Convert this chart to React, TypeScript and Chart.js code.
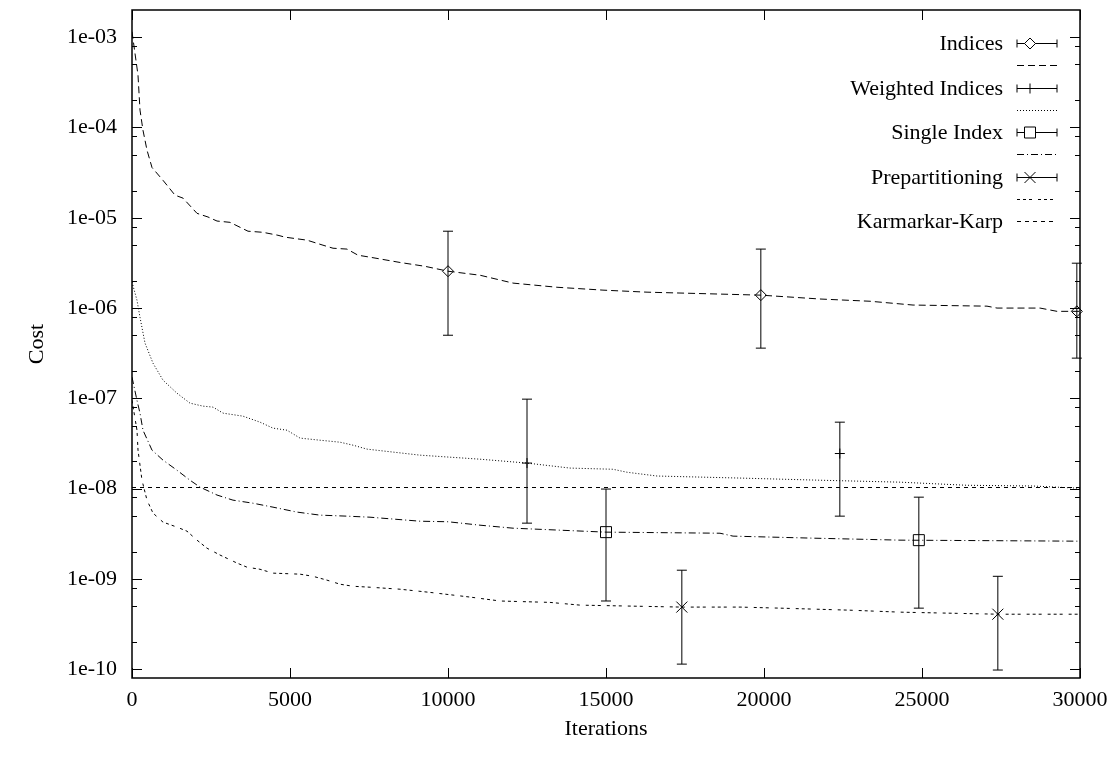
import React, { useEffect, useRef } from 'react';
import { Chart, registerables } from 'chart.js';

Chart.register(...registerables);

const FONT_FAMILY = "'Liberation Serif', 'Times New Roman', Times, serif";
const FONT_SIZE = 22;

// Axis ticks
const X_TICKS = [0, 5000, 10000, 15000, 20000, 25000, 30000];
const Y_MAJOR_TICKS = [1e-10, 1e-9, 1e-8, 1e-7, 1e-6, 1e-5, 1e-4, 1e-3];
const Y_MINOR_MANTISSAS = [2, 5, 8];
const X_MIN = 0;
const X_MAX = 30000;
const Y_MIN = 8e-11;
const Y_MAX = 2e-3;

// Indices (long dashes)
const indicesIter = [0, 190, 253, 348, 475, 633, 981, 1361, 1614, 2057, 2405, 2690, 3101, 3671, 4146, 4620, 4842, 5538, 6044, 6361, 6804, 7152, 7532, 8481, 9272, 10000, 11013, 12057, 13450, 14905, 16298, 19900, 21772, 23355, 24716, 27057, 27374, 28735, 29273, 30000];
const indicesCost = [1.15e-3, 3.8e-4, 1.56e-4, 9.3e-5, 5.6e-5, 3.6e-5, 2.6e-5, 1.78e-5, 1.65e-5, 1.12e-5, 1.02e-5, 9.2e-6, 8.9e-6, 7.1e-6, 6.9e-6, 6.4e-6, 6.1e-6, 5.65e-6, 4.97e-6, 4.6e-6, 4.5e-6, 3.85e-6, 3.66e-6, 3.2e-6, 2.9e-6, 2.56e-6, 2.31e-6, 1.89e-6, 1.7e-6, 1.58e-6, 1.5e-6, 1.39e-6, 1.26e-6, 1.19e-6, 1.08e-6, 1.05e-6, 1.0e-6, 1.0e-6, 9.2e-7, 9.2e-7];
const indicesErrIter = [10000, 19900, 29900];
const indicesErrCost = [2.56e-6, 1.39e-6, 9.2e-7];
const indicesErrLow = [5.0e-7, 3.6e-7, 2.79e-7];
const indicesErrHigh = [7.1e-6, 4.5e-6, 3.14e-6];

// Weighted Indices (dotted)
const weightedIter = [0, 158, 253, 411, 665, 981, 1424, 1835, 2247, 2563, 2880, 3513, 4051, 4462, 4905, 5317, 5949, 6582, 6994, 7437, 9114, 11013, 12500, 13861, 15222, 15665, 16614, 19241, 21772, 24304, 26424, 28513, 30000];
const weightedCost = [1.94e-6, 1.22e-6, 7.9e-7, 4.1e-7, 2.45e-7, 1.59e-7, 1.14e-7, 8.85e-8, 8.2e-8, 8.0e-8, 6.86e-8, 6.35e-8, 5.45e-8, 4.68e-8, 4.44e-8, 3.63e-8, 3.44e-8, 3.27e-8, 3.03e-8, 2.74e-8, 2.35e-8, 2.12e-8, 1.92e-8, 1.69e-8, 1.64e-8, 1.52e-8, 1.38e-8, 1.31e-8, 1.24e-8, 1.18e-8, 1.09e-8, 1.07e-8, 1.01e-8];
const weightedErrIter = [12500, 22400];
const weightedErrCost = [1.92e-8, 2.45e-8];
const weightedErrLow = [4.15e-9, 4.96e-9];
const weightedErrHigh = [9.8e-8, 5.45e-8];

// Single Index (dash-dot)
const singleIter = [0, 158, 253, 348, 633, 981, 1424, 1835, 2152, 2690, 3196, 3829, 4462, 5222, 5949, 6804, 7532, 9114, 10000, 11013, 12057, 15000, 18608, 19020, 21551, 24304, 30000];
const singleCost = [1.72e-7, 9.5e-8, 6.86e-8, 4.44e-8, 2.67e-8, 2.07e-8, 1.6e-8, 1.24e-8, 1.04e-8, 8.5e-9, 7.46e-9, 6.9e-9, 6.24e-9, 5.5e-9, 5.09e-9, 4.96e-9, 4.83e-9, 4.36e-9, 4.3e-9, 3.94e-9, 3.65e-9, 3.3e-9, 3.21e-9, 2.98e-9, 2.83e-9, 2.69e-9, 2.62e-9];
const singleErrIter = [15000, 24900];
const singleErrCost = [3.3e-9, 2.69e-9];
const singleErrLow = [5.7e-10, 4.75e-10];
const singleErrHigh = [9.9e-9, 8.05e-9];

// Prepartitioning (short dashes)
const prepIter = [0, 158, 190, 316, 475, 665, 981, 1424, 1741, 2057, 2374, 2785, 3323, 3639, 4051, 4462, 5317, 5728, 6171, 6582, 6994, 7532, 8481, 9430, 10696, 11646, 13228, 14178, 17400, 19241, 20506, 22722, 24304, 27400, 30000];
const prepCost = [9.5e-8, 4.44e-8, 2.67e-8, 1.24e-8, 7.46e-9, 5.36e-9, 4.26e-9, 3.75e-9, 3.38e-9, 2.69e-9, 2.19e-9, 1.84e-9, 1.5e-9, 1.35e-9, 1.28e-9, 1.16e-9, 1.13e-9, 1.07e-9, 9.7e-10, 8.75e-10, 8.3e-10, 8.1e-10, 7.7e-10, 7.1e-10, 6.3e-10, 5.7e-10, 5.5e-10, 5.13e-10, 4.88e-10, 4.88e-10, 4.75e-10, 4.51e-10, 4.29e-10, 4.07e-10, 4.07e-10];
const prepErrIter = [17400, 27400];
const prepErrCost = [4.88e-10, 4.07e-10];
const prepErrLow = [1.14e-10, 9.8e-11];
const prepErrHigh = [1.25e-9, 1.07e-9];

// Karmarkar-Karp (constant)
const kkIter = [0, 30000];
const kkCost = [1.03e-8, 1.03e-8];

const LEGEND_LABELS = ['Indices', '', 'Weighted Indices', '', 'Single Index', '', 'Prepartitioning', '', 'Karmarkar-Karp'];

const DASH_INDICES = [7, 4];
const DASH_WEIGHTED = [1, 2];
const DASH_SINGLE = [7, 3, 1, 3];
const DASH_PREP = [3, 3, 3, 3, 3, 6];
const DASH_KK = [4, 4];

const pts = (xs: number[], ys: number[]) => xs.map((x, i) => ({ x, y: ys[i] }));
const errPts = (xs: number[], ys: number[], lo: number[], hi: number[]) =>
  xs.map((x, i) => ({ x, y: ys[i], yMin: lo[i], yMax: hi[i] }));

const isMajor = (v: number) => Y_MAJOR_TICKS.some((m) => Math.abs(v / m - 1) < 1e-6);
const fmtExp = (v: number) => {
  const e = Math.round(Math.log10(v));
  return '1e' + (e < 0 ? '-' : '+') + String(Math.abs(e)).padStart(2, '0');
};

function drawMarker(ctx: CanvasRenderingContext2D, style: string, x: number, y: number) {
  ctx.beginPath();
  if (style === 'diamond') {
    ctx.moveTo(x, y - 5.5); ctx.lineTo(x + 5.5, y); ctx.lineTo(x, y + 5.5); ctx.lineTo(x - 5.5, y); ctx.closePath();
  } else if (style === 'square') {
    ctx.rect(x - 5.5, y - 5.5, 11, 11);
  } else if (style === 'plus') {
    ctx.moveTo(x - 5, y); ctx.lineTo(x + 5, y); ctx.moveTo(x, y - 5); ctx.lineTo(x, y + 5);
  } else if (style === 'x') {
    ctx.moveTo(x - 5.5, y - 5.5); ctx.lineTo(x + 5.5, y + 5.5); ctx.moveTo(x + 5.5, y - 5.5); ctx.lineTo(x - 5.5, y + 5.5);
  }
  ctx.stroke();
}

const errorBarPlugin = {
  id: 'errorBars',
  afterDatasetsDraw(chart: any) {
    const { ctx, scales } = chart;
    const xs = scales.x;
    const ys = scales.y;
    ctx.save();
    ctx.strokeStyle = '#000';
    ctx.lineWidth = 1;
    chart.data.datasets.forEach((ds: any) => {
      if (!ds.errorMarker) return;
      ds.data.forEach((p: any) => {
        const px = xs.getPixelForValue(p.x);
        const y1 = ys.getPixelForValue(p.yMin);
        const y2 = ys.getPixelForValue(p.yMax);
        const yc = ys.getPixelForValue(p.y);
        ctx.beginPath();
        ctx.moveTo(px, y1); ctx.lineTo(px, y2);
        ctx.moveTo(px - 5, y1); ctx.lineTo(px + 5, y1);
        ctx.moveTo(px - 5, y2); ctx.lineTo(px + 5, y2);
        ctx.stroke();
        drawMarker(ctx, ds.errorMarker, px, yc);
      });
    });
    ctx.restore();
  },
};

const framePlugin = {
  id: 'gnuplotFrame',
  afterDraw(chart: any) {
    const { ctx, chartArea: a, scales } = chart;
    ctx.save();
    ctx.strokeStyle = '#000';
    ctx.lineWidth = 1;
    ctx.beginPath();
    scales.y.ticks.forEach((t: any) => {
      const y = Math.round(scales.y.getPixelForValue(t.value)) + 0.5;
      const len = isMajor(t.value) ? 10 : 5;
      ctx.moveTo(a.left, y); ctx.lineTo(a.left + len, y);
      ctx.moveTo(a.right, y); ctx.lineTo(a.right - len, y);
    });
    scales.x.ticks.forEach((t: any) => {
      const x = Math.round(scales.x.getPixelForValue(t.value)) + 0.5;
      ctx.moveTo(x, a.bottom); ctx.lineTo(x, a.bottom - 10);
      ctx.moveTo(x, a.top); ctx.lineTo(x, a.top + 10);
    });
    ctx.stroke();
    ctx.lineWidth = 1.5;
    ctx.strokeRect(a.left, a.top, a.right - a.left, a.bottom - a.top);
    ctx.restore();
  },
};

const legendPlugin = {
  id: 'gnuplotKey',
  afterDraw(chart: any) {
    const { ctx, chartArea: a } = chart;
    const textRight = a.right - 77;
    const x1 = a.right - 63;
    const x2 = a.right - 23;
    const xm = a.right - 50;
    const rowH = 22.25;
    const y0 = a.top + 33;
    const samples: any[] = [
      { kind: 'err', marker: 'diamond' },
      { kind: 'line', dash: DASH_INDICES },
      { kind: 'err', marker: 'plus' },
      { kind: 'line', dash: DASH_WEIGHTED },
      { kind: 'err', marker: 'square' },
      { kind: 'line', dash: DASH_SINGLE },
      { kind: 'err', marker: 'x' },
      { kind: 'line', dash: DASH_PREP },
      { kind: 'line', dash: DASH_KK },
    ];
    ctx.save();
    ctx.font = `${FONT_SIZE}px ${FONT_FAMILY}`;
    ctx.fillStyle = '#000';
    ctx.textAlign = 'right';
    ctx.textBaseline = 'middle';
    LEGEND_LABELS.forEach((label, i) => {
      const y = Math.round(y0 + rowH * i) + 0.5;
      if (label) ctx.fillText(label, textRight, y + 1);
      const s = samples[i];
      ctx.strokeStyle = '#000';
      ctx.lineWidth = 1;
      if (s.kind === 'err') {
        ctx.setLineDash([]);
        ctx.beginPath();
        ctx.moveTo(x1, y); ctx.lineTo(x2, y);
        ctx.moveTo(x1, y - 4); ctx.lineTo(x1, y + 4);
        ctx.moveTo(x2, y - 4); ctx.lineTo(x2, y + 4);
        ctx.stroke();
        if (s.marker === 'diamond' || s.marker === 'square') {
          ctx.fillStyle = '#fff';
          ctx.beginPath();
          if (s.marker === 'diamond') {
            ctx.moveTo(xm, y - 5.5); ctx.lineTo(xm + 5.5, y); ctx.lineTo(xm, y + 5.5); ctx.lineTo(xm - 5.5, y); ctx.closePath();
          } else {
            ctx.rect(xm - 5.5, y - 5.5, 11, 11);
          }
          ctx.fill();
          ctx.fillStyle = '#000';
        }
        drawMarker(ctx, s.marker, xm, y);
      } else {
        ctx.setLineDash(s.dash);
        ctx.beginPath();
        ctx.moveTo(x1, y); ctx.lineTo(x2, y);
        ctx.stroke();
        ctx.setLineDash([]);
      }
    });
    ctx.restore();
  },
};

const lineDs = (data: any[], dash: number[]) => ({
  data,
  borderColor: '#000',
  borderWidth: 1,
  borderDash: dash,
  pointRadius: 0,
  fill: false,
  tension: 0,
});

const errDs = (data: any[], marker: string) => ({
  data,
  showLine: false,
  pointRadius: 0,
  errorMarker: marker,
});

export default function App() {
  const ref = useRef<HTMLCanvasElement>(null);
  useEffect(() => {
    const font = { family: FONT_FAMILY, size: FONT_SIZE };
    const chart = new Chart(ref.current as HTMLCanvasElement, {
      type: 'line',
      data: {
        datasets: [
          lineDs(pts(indicesIter, indicesCost), DASH_INDICES),
          lineDs(pts(weightedIter, weightedCost), DASH_WEIGHTED),
          lineDs(pts(singleIter, singleCost), DASH_SINGLE),
          lineDs(pts(prepIter, prepCost), DASH_PREP),
          lineDs(pts(kkIter, kkCost), DASH_KK),
          errDs(errPts(indicesErrIter, indicesErrCost, indicesErrLow, indicesErrHigh), 'diamond'),
          errDs(errPts(weightedErrIter, weightedErrCost, weightedErrLow, weightedErrHigh), 'plus'),
          errDs(errPts(singleErrIter, singleErrCost, singleErrLow, singleErrHigh), 'square'),
          errDs(errPts(prepErrIter, prepErrCost, prepErrLow, prepErrHigh), 'x'),
        ] as any,
      },
      options: {
        responsive: false,
        devicePixelRatio: 1,
        animation: false,
        events: [],
        layout: { padding: { left: 0, top: 10, right: 33, bottom: 0 } },
        plugins: { legend: { display: false }, tooltip: { enabled: false } },
        scales: {
          x: {
            type: 'linear',
            min: X_MIN,
            max: X_MAX,
            afterBuildTicks: (s: any) => {
              s.ticks = X_TICKS.map((v) => ({ value: v }));
            },
            afterFit: (s: any) => {
              s.height = 81;
              s.paddingLeft = 0;
              s.paddingRight = 0;
            },
            grid: { display: false, drawTicks: false },
            border: { display: false },
            ticks: {
              font,
              color: '#000',
              padding: 9,
              autoSkip: false,
              maxRotation: 0,
              callback: (v: any) => String(v),
            },
            title: { display: true, text: 'Iterations', font, color: '#000', padding: { top: 0, bottom: 17 } },
          },
          y: {
            type: 'logarithmic',
            min: Y_MIN,
            max: Y_MAX,
            afterBuildTicks: (s: any) => {
              const vals: number[] = [...Y_MAJOR_TICKS];
              Y_MAJOR_TICKS.forEach((d) => {
                Y_MINOR_MANTISSAS.forEach((m) => {
                  const v = d * m;
                  if (v > Y_MIN * 1.0001 && v < Y_MAX * 0.9999) vals.push(v);
                });
              });
              vals.sort((p, q) => p - q);
              s.ticks = vals.map((v) => ({ value: v }));
            },
            afterFit: (s: any) => {
              s.width = 132;
              s.paddingTop = 0;
              s.paddingBottom = 0;
            },
            grid: { display: false, drawTicks: false },
            border: { display: false },
            ticks: {
              font,
              color: '#000',
              padding: 15,
              autoSkip: false,
              callback: (v: any) => (isMajor(Number(v)) ? fmtExp(Number(v)) : ''),
            },
            title: { display: true, text: 'Cost', font, color: '#000', padding: { top: 24, bottom: 0 } },
          },
        },
      } as any,
      plugins: [errorBarPlugin, framePlugin, legendPlugin],
    });
    return () => chart.destroy();
  }, []);
  return (
    <div style={{ position: 'absolute', left: 0, top: 0, width: 1113, height: 759, background: '#fff' }}>
      <canvas ref={ref} width={1113} height={759} style={{ display: 'block' }} />
    </div>
  );
}
